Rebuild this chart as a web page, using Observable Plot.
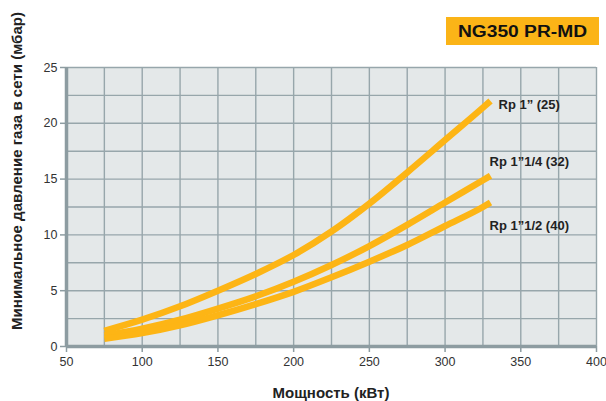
<!DOCTYPE html>
<html><head><meta charset="utf-8">
<script src="https://cdn.jsdelivr.net/npm/d3@7"></script>
<script src="https://cdn.jsdelivr.net/npm/@observablehq/plot@0.6"></script>
<style>
body{margin:0;background:#fff;}
#chart svg{display:block;}
</style>
</head><body><div id="chart"></div>
<script>
const power = [75, 100, 125, 150, 175, 200, 225, 250, 275, 300, 325, 330];
const rp25 = [1.4, 2.4, 3.6, 5.0, 6.5, 8.2, 10.3, 12.8, 15.6, 18.5, 21.4, 22.0];
const rp32 = [1.0, 1.6, 2.4, 3.4, 4.5, 5.8, 7.3, 9.0, 10.9, 12.9, 14.9, 15.3];
const rp40 = [0.7, 1.2, 1.9, 2.8, 3.8, 4.9, 6.2, 7.6, 9.1, 10.8, 12.5, 12.9];
const seriesNames = ["Rp 1\u201d (25)", "Rp 1\u201d1/4 (32)", "Rp 1\u201d1/2 (40)"];
const xTicks = [50, 100, 150, 200, 250, 300, 350, 400];
const yTicks = [0, 5, 10, 15, 20, 25];
const xGrid = [75, 100, 125, 150, 175, 200, 225, 250, 275, 300, 325, 350, 375, 400];
const yGrid = [2.5, 5, 7.5, 10, 12.5, 15, 17.5, 20, 22.5, 25];
const titleText = "NG350 PR-MD";
const xLabel = "Мощность (кВт)";
const yLabel = "Минимальное давление газа в сети (мбар)";

const seriesValues = [rp25, rp32, rp40];
const rows = [];
seriesValues.forEach((vals, i) => vals.forEach((v, j) => rows.push({series: seriesNames[i], power: power[j], value: v})));
const last = power.length - 1;
const ends = seriesNames.map((s, i) => ({series: s, power: power[last], value: seriesValues[i][last]}));

const gridColor = "#97a6ab";
const axisColor = "#8d9ca1";
const orange = "#fdb515";
const labelStyle = {x: "power", y: "value", text: "series", textAnchor: "start", fontWeight: "bold", fontSize: 13, fill: "#222"};

const plot = Plot.plot({
  width: 606, height: 401,
  marginLeft: 66, marginRight: 10, marginTop: 67, marginBottom: 55,
  x: {domain: [50, 400]},
  y: {domain: [0, 25]},
  style: {fontFamily: "'Liberation Sans', Arial, sans-serif", fontSize: "12.5px", color: "#333", background: "#fff"},
  marks: [
    Plot.frame({fill: "#e4e8e9", stroke: null}),
    Plot.ruleX(xGrid, {stroke: gridColor, strokeWidth: 1.4}),
    Plot.ruleY(yGrid, {stroke: gridColor, strokeWidth: 1.4}),
    Plot.axisX({ticks: xTicks, tickSize: 6, tickPadding: 5, stroke: axisColor, strokeWidth: 1.5, fill: "#333", label: null}),
    Plot.axisY({ticks: yTicks, tickSize: 6, tickPadding: 3, stroke: axisColor, strokeWidth: 1.5, fill: "#333", label: null}),
    Plot.ruleX([50], {stroke: axisColor, strokeWidth: 3.5}),
    Plot.ruleY([0], {stroke: axisColor, strokeWidth: 3.5}),
    Plot.line(rows, {x: "power", y: "value", z: "series", stroke: orange, strokeWidth: 6.5, curve: "monotone-x", strokeLinecap: "butt"}),
    Plot.text(ends.filter(d => d.series === seriesNames[0]), {...labelStyle, dx: 8, dy: 4}),
    Plot.text(ends.filter(d => d.series === seriesNames[1]), {...labelStyle, dx: -1, dy: -14}),
    Plot.text(ends.filter(d => d.series === seriesNames[2]), {...labelStyle, dx: -1, dy: 23})
  ]
});

const svg = d3.select(plot);
const ff = "'Liberation Sans', Arial, sans-serif";
svg.append("rect").attr("x", 446).attr("y", 17).attr("width", 153).attr("height", 28).attr("fill", "#fbb417");
svg.append("text").attr("x", 522.5).attr("y", 37).attr("text-anchor", "middle")
  .attr("font-family", ff).attr("font-weight", "bold").attr("font-size", 16).attr("fill", "#111")
  .attr("textLength", 129).attr("lengthAdjust", "spacingAndGlyphs").text(titleText);
svg.append("text").attr("x", 331).attr("y", 398).attr("text-anchor", "middle")
  .attr("font-family", ff).attr("font-weight", "bold").attr("font-size", 15).attr("fill", "#222").text(xLabel);
svg.append("text").attr("transform", "translate(22,171) rotate(-90)").attr("text-anchor", "middle")
  .attr("font-family", ff).attr("font-weight", "bold").attr("font-size", 14.5).attr("fill", "#222")
  .attr("textLength", 318).attr("lengthAdjust", "spacingAndGlyphs").text(yLabel);

document.getElementById("chart").appendChild(plot);
</script>
</body></html>
